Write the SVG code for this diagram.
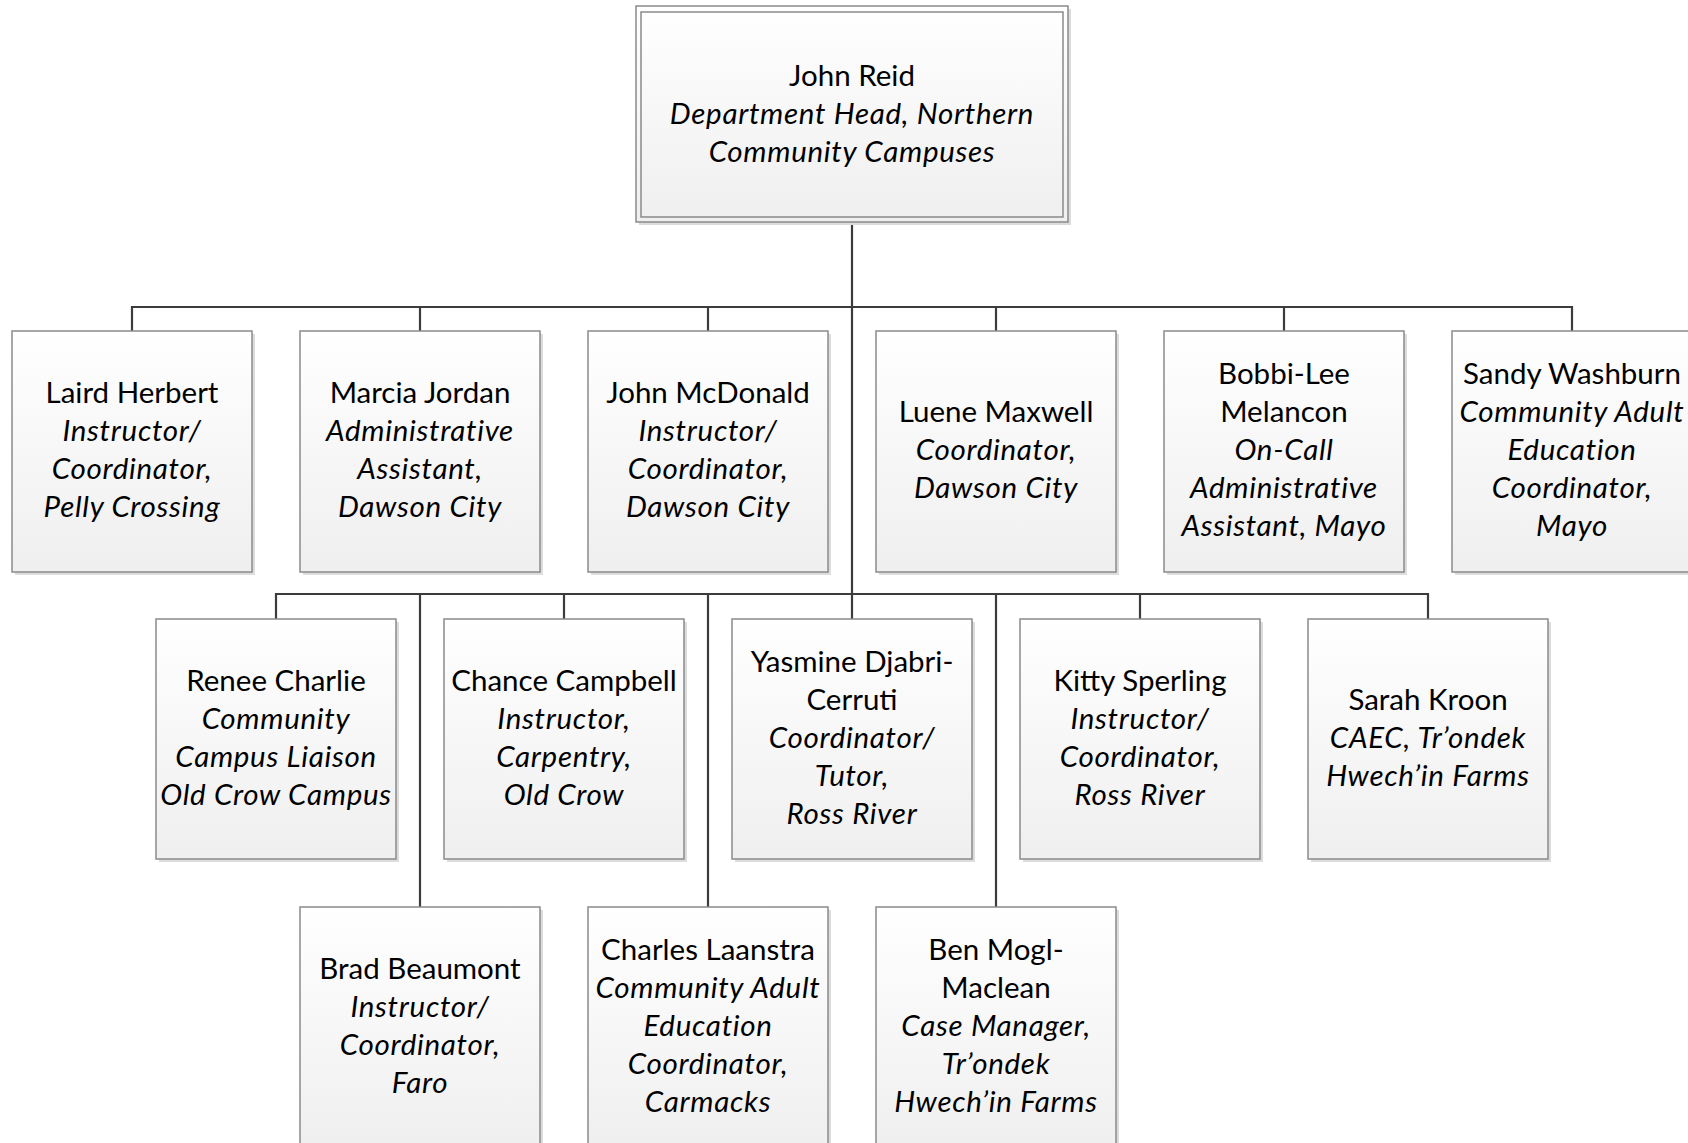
<svg xmlns="http://www.w3.org/2000/svg" width="1688" height="1143" viewBox="0 0 1688 1143">
<defs>
<linearGradient id="g" x1="0" y1="0" x2="0" y2="1">
<stop offset="0" stop-color="#ffffff"/>
<stop offset="1" stop-color="#efefef"/>
</linearGradient>
<style>
.box{fill:url(#g);stroke:#8a8a8a;stroke-width:1.5}
.sh{fill:#dcdcdc}
.c{fill:none;stroke:#3c3c3c;stroke-width:2.2}
text{font-family:Lato,"Noto Sans",sans-serif;font-size:29.5px;fill:#000;text-anchor:middle}
.i{font-style:italic;letter-spacing:0.7px}
</style>
</defs>
<rect width="1688" height="1143" fill="#fff"/>
<g id="connectors">
<path class="c" d="M852 222V594"/>
<path class="c" d="M132 331V307H1572V331M420 307V331M708 307V331M996 307V331M1284 307V331"/>
<path class="c" d="M276 619V594H1428V619M564 594V619M852 594V619M1140 594V619M420 594V907M708 594V907M996 594V907"/>
</g>
<g id="n0">
<rect class="sh" x="639" y="9" width="432" height="216"/>
<rect class="box" x="636" y="6" width="432" height="216"/>
<rect fill="none" stroke="#8a8a8a" stroke-width="1.5" x="641" y="12" width="422" height="205"/>
<text x="852" y="86">John Reid</text>
<text class="i" x="852" y="124">Department Head, Northern</text>
<text class="i" x="852" y="162">Community Campuses</text>
</g>
<g id="n1">
<rect class="sh" x="15" y="334" width="240" height="241"/>
<rect class="box" x="12" y="331" width="240" height="241"/>
<text x="132" y="403">Laird Herbert</text>
<text class="i" x="132" y="441">Instructor/</text>
<text class="i" x="132" y="479">Coordinator,</text>
<text class="i" x="132" y="517">Pelly Crossing</text>
</g>
<g id="n2">
<rect class="sh" x="303" y="334" width="240" height="241"/>
<rect class="box" x="300" y="331" width="240" height="241"/>
<text x="420" y="403">Marcia Jordan</text>
<text class="i" x="420" y="441">Administrative</text>
<text class="i" x="420" y="479">Assistant,</text>
<text class="i" x="420" y="517">Dawson City</text>
</g>
<g id="n3">
<rect class="sh" x="591" y="334" width="240" height="241"/>
<rect class="box" x="588" y="331" width="240" height="241"/>
<text x="708" y="403">John McDonald</text>
<text class="i" x="708" y="441">Instructor/</text>
<text class="i" x="708" y="479">Coordinator,</text>
<text class="i" x="708" y="517">Dawson City</text>
</g>
<g id="n4">
<rect class="sh" x="879" y="334" width="240" height="241"/>
<rect class="box" x="876" y="331" width="240" height="241"/>
<text x="996" y="422">Luene Maxwell</text>
<text class="i" x="996" y="460">Coordinator,</text>
<text class="i" x="996" y="498">Dawson City</text>
</g>
<g id="n5">
<rect class="sh" x="1167" y="334" width="240" height="241"/>
<rect class="box" x="1164" y="331" width="240" height="241"/>
<text x="1284" y="384">Bobbi-Lee</text>
<text x="1284" y="422">Melancon</text>
<text class="i" x="1284" y="460">On-Call</text>
<text class="i" x="1284" y="498">Administrative</text>
<text class="i" x="1284" y="536">Assistant, Mayo</text>
</g>
<g id="n6">
<rect class="sh" x="1455" y="334" width="240" height="241"/>
<rect class="box" x="1452" y="331" width="240" height="241"/>
<text x="1572" y="384">Sandy Washburn</text>
<text class="i" x="1572" y="422">Community Adult</text>
<text class="i" x="1572" y="460">Education</text>
<text class="i" x="1572" y="498">Coordinator,</text>
<text class="i" x="1572" y="536">Mayo</text>
</g>
<g id="n7">
<rect class="sh" x="159" y="622" width="240" height="240"/>
<rect class="box" x="156" y="619" width="240" height="240"/>
<text x="276" y="691">Renee Charlie</text>
<text class="i" x="276" y="729">Community</text>
<text class="i" x="276" y="767">Campus Liaison</text>
<text class="i" x="276" y="805">Old Crow Campus</text>
</g>
<g id="n8">
<rect class="sh" x="447" y="622" width="240" height="240"/>
<rect class="box" x="444" y="619" width="240" height="240"/>
<text x="564" y="691">Chance Campbell</text>
<text class="i" x="564" y="729">Instructor,</text>
<text class="i" x="564" y="767">Carpentry,</text>
<text class="i" x="564" y="805">Old Crow</text>
</g>
<g id="n9">
<rect class="sh" x="735" y="622" width="240" height="240"/>
<rect class="box" x="732" y="619" width="240" height="240"/>
<text x="852" y="672">Yasmine Djabri-</text>
<text x="852" y="710">Cerruti</text>
<text class="i" x="852" y="748">Coordinator/</text>
<text class="i" x="852" y="786">Tutor,</text>
<text class="i" x="852" y="824">Ross River</text>
</g>
<g id="n10">
<rect class="sh" x="1023" y="622" width="240" height="240"/>
<rect class="box" x="1020" y="619" width="240" height="240"/>
<text x="1140" y="691">Kitty Sperling</text>
<text class="i" x="1140" y="729">Instructor/</text>
<text class="i" x="1140" y="767">Coordinator,</text>
<text class="i" x="1140" y="805">Ross River</text>
</g>
<g id="n11">
<rect class="sh" x="1311" y="622" width="240" height="240"/>
<rect class="box" x="1308" y="619" width="240" height="240"/>
<text x="1428" y="710">Sarah Kroon</text>
<text class="i" x="1428" y="748">CAEC, Tr’ondek</text>
<text class="i" x="1428" y="786">Hwech’in Farms</text>
</g>
<g id="n12">
<rect class="sh" x="303" y="910" width="240" height="241"/>
<rect class="box" x="300" y="907" width="240" height="241"/>
<text x="420" y="979">Brad Beaumont</text>
<text class="i" x="420" y="1017">Instructor/</text>
<text class="i" x="420" y="1055">Coordinator,</text>
<text class="i" x="420" y="1093">Faro</text>
</g>
<g id="n13">
<rect class="sh" x="591" y="910" width="240" height="241"/>
<rect class="box" x="588" y="907" width="240" height="241"/>
<text x="708" y="960">Charles Laanstra</text>
<text class="i" x="708" y="998">Community Adult</text>
<text class="i" x="708" y="1036">Education</text>
<text class="i" x="708" y="1074">Coordinator,</text>
<text class="i" x="708" y="1112">Carmacks</text>
</g>
<g id="n14">
<rect class="sh" x="879" y="910" width="240" height="241"/>
<rect class="box" x="876" y="907" width="240" height="241"/>
<text x="996" y="960">Ben Mogl-</text>
<text x="996" y="998">Maclean</text>
<text class="i" x="996" y="1036">Case Manager,</text>
<text class="i" x="996" y="1074">Tr’ondek</text>
<text class="i" x="996" y="1112">Hwech’in Farms</text>
</g>
</svg>
